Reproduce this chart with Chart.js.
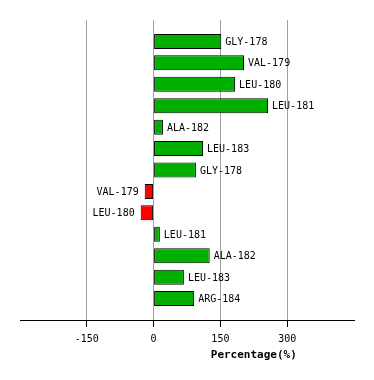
<!DOCTYPE html>
<html>
<head>
<meta charset="utf-8">
<script src="https://cdn.jsdelivr.net/npm/chart.js@4"></script>
<style>
  html, body { margin: 0; padding: 0; background: #fff; }
  #wrap { width: 374px; height: 380px; }
</style>
</head>
<body>
<div id="wrap"><canvas id="myBarChart" width="374" height="380"></canvas></div>
<script>
// residues, top to bottom
const residues = ['GLY-178', 'VAL-179', 'LEU-180', 'LEU-181', 'ALA-182', 'LEU-183', 'GLY-178',
                  'VAL-179', 'LEU-180', 'LEU-181', 'ALA-182', 'LEU-183', 'ARG-184'];
// percentage values
const percentages = [152, 203, 183, 257, 21, 111, 95, -20, -29, 14, 126, 68, 91];
const xTicks = [-150, 0, 150, 300];
const xMin = -300;
const xMax = 450;

const monoFont = '"DejaVu Sans Mono", "Liberation Mono", monospace';

// labels beside every bar
const barLabels = {
    id: 'barLabels',
    afterDatasetsDraw(chart) {
        const ctx = chart.ctx;
        const meta = chart.getDatasetMeta(0);
        ctx.save();
        ctx.font = '10px ' + monoFont;
        ctx.fillStyle = '#000';
        ctx.textBaseline = 'middle';
        meta.data.forEach(function (bar, i) {
            if (percentages[i] >= 0) {
                ctx.textAlign = 'left';
                ctx.fillText(residues[i], bar.x + 4, bar.y + 1);
            } else {
                ctx.textAlign = 'right';
                ctx.fillText(residues[i], bar.x - 6, bar.y + 1);
            }
        });
        ctx.restore();
    }
};

// axis title centred on the positive half
const axisTitle = {
    id: 'axisTitle',
    afterDraw(chart) {
        const ctx = chart.ctx;
        const x = chart.scales.x;
        ctx.save();
        ctx.font = 'bold 11px ' + monoFont;
        ctx.fillStyle = '#000';
        ctx.textAlign = 'center';
        ctx.textBaseline = 'middle';
        ctx.fillText('Percentage(%)', x.getPixelForValue(xMax / 2), x.bottom - 25);
        ctx.restore();
    }
};

const data = {
    datasets: [{
        data: percentages.map(function (v, i) { return { x: v, y: i }; }),
        backgroundColor: percentages.map(function (v) { return v >= 0 ? '#00b000' : '#ff0000'; }),
        borderColor: '#000',
        borderWidth: 1,
        borderSkipped: false,
        categoryPercentage: 1,
        barPercentage: 0.7
    }]
};

const config = {
    type: 'bar',
    data: data,
    options: {
        indexAxis: 'y',
        responsive: false,
        maintainAspectRatio: false,
        animation: false,
        layout: { padding: { top: 20, left: 20, right: 20, bottom: 0 } },
        plugins: {
            legend: { display: false },
            tooltip: { enabled: false }
        },
        scales: {
            x: {
                type: 'linear',
                min: xMin,
                max: xMax,
                afterBuildTicks: function (scale) {
                    scale.ticks = xTicks.map(function (v) { return { value: v }; });
                },
                afterFit: function (scale) { scale.height = 60; },
                grid: {
                    color: '#a0a0a0',
                    lineWidth: 1,
                    drawTicks: true,
                    tickLength: 7,
                    tickColor: '#000'
                },
                border: { display: true, color: '#000', width: 1 },
                ticks: {
                    font: { family: monoFont, size: 10 },
                    color: '#000',
                    padding: 6,
                    maxRotation: 0
                }
            },
            y: {
                type: 'linear',
                display: false,
                offset: false,
                reverse: true,
                min: -1,
                max: residues.length
            }
        }
    },
    plugins: [barLabels, axisTitle]
};

new Chart(document.getElementById('myBarChart'), config);
</script>
</body>
</html>
